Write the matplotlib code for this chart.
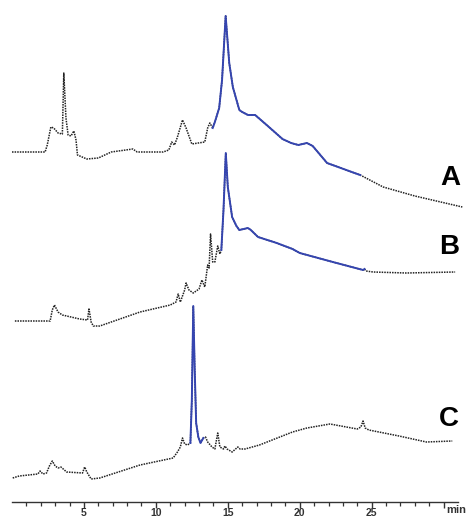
import matplotlib
matplotlib.use('Agg')
import matplotlib.pyplot as plt
import numpy as np

# retention time (min) and signal (arbitrary units)
t_a = [0.0, 2.3, 2.45, 2.7, 2.9, 3.2, 3.5, 3.6, 3.75, 3.9, 4.1, 4.3, 4.45, 4.55,
       5.2, 6.0, 6.9, 8.4, 8.7, 10.5, 10.9, 11.1, 11.3, 11.5, 11.85, 12.1, 12.5,
       13.4, 13.6, 13.75, 13.95, 14.1, 14.4, 14.6, 14.85, 15.1, 15.35, 15.8, 16.0,
       16.4, 16.9, 17.7, 18.8, 19.4, 19.9, 20.5, 20.9, 21.9, 24.0, 24.2, 25.8,
       28.0, 31.3]
s_a = [0, 0, 7, 25, 24, 19, 18, 79, 34, 17, 16, 21, 12, -3,
       -7, -6, 0, 3, 0, 0, 2, 10, 7, 15, 32, 24, 8,
       10, 24, 29, 24, 30, 44, 72, 136, 89, 65, 42, 40,
       37, 37, 27, 13, 9, 7, 9, 6, -11, -22, -23, -35,
       -44, -55]

t_b = [0.2, 2.65, 2.8, 2.95, 3.2, 3.5, 3.8, 4.7, 5.25, 5.35, 5.5, 5.65, 6.1,
       7.5, 8.9, 11.0, 11.4, 11.55, 11.7, 12.0, 12.1, 12.3, 12.6, 13.0, 13.2,
       13.4, 13.6, 13.7, 13.8, 13.95, 14.1, 14.3, 14.45, 14.55, 14.7, 14.86,
       15.0, 15.3, 15.6, 15.8, 16.1, 16.4, 16.6, 17.1, 18.4, 19.5, 20.0, 22.3,
       24.4, 24.5, 24.6, 25.1, 27.4, 30.8]
s_b = [0, 0, 11, 16, 9, 6, 5, 2, 1, 12, -1, -5, -5,
       2, 9, 16, 19, 27, 19, 31, 38, 31, 28, 32, 41,
       34, 56, 53, 87, 59, 59, 75, 67, 71, 111, 168,
       134, 104, 95, 91, 92, 93, 91, 84, 78, 72, 68, 59,
       51, 52, 50, 49, 48, 49]

t_c = [0.05, 0.5, 1.8, 1.95, 2.15, 2.4, 2.6, 2.8, 3.0, 3.2, 3.4, 3.8, 4.9,
       5.05, 5.2, 5.5, 6.1, 8.9, 11.2, 11.5, 11.7, 11.85, 12.0, 12.2, 12.4,
       12.5, 12.6, 12.7, 12.8, 12.95, 13.1, 13.3, 13.45, 13.6, 13.9, 14.1,
       14.3, 14.45, 14.7, 14.8, 14.95, 15.3, 15.7, 15.85, 16.2, 17.2, 19.5,
       20.5, 22.1, 24.0, 24.25, 24.4, 24.55, 24.8, 26.9, 28.8, 30.6]
s_c = [0, 2, 4, 7, 4, 5, 12, 17, 12, 10, 11, 6, 5,
       11, 6, -1, 0, 13, 20, 26, 31, 40, 34, 33, 35,
       78, 172, 108, 55, 41, 35, 40, 41, 36, 31, 29,
       45, 31, 29, 32, 29, 26, 31, 29, 29, 33, 46,
       50, 54, 49, 51, 57, 50, 48, 42, 36, 37]

# time window of the highlighted (blue) part of each run
blue_a = (13.9, 24.2)
blue_b = (14.5, 24.5)
blue_c = (12.4, 13.3)

labels = ['A', 'B', 'C']
offsets = [350, 181, 24]
label_pos = [(30.5, 324), (30.4, 255), (30.4, 83)]

fig = plt.figure(figsize=(4.67, 5.17), dpi=100)
ax = fig.add_axes([12 / 467, 15 / 517, 446 / 467, 502 / 517])

dots = (0, (1.0, 0.7))
traces = [(t_a, s_a, blue_a), (t_b, s_b, blue_b), (t_c, s_c, blue_c)]
for (t, s, win), off, lab, pos in zip(traces, offsets, labels, label_pos):
    t = np.array(t)
    y = np.array(s) + off
    ax.plot(t, y, color='#222222', lw=1.1, ls=dots, clip_on=False)
    m = (t >= win[0]) & (t <= win[1])
    ax.plot(t[m], y[m], color='#3545b0', lw=1.4, clip_on=False)
    ax.text(pos[0], pos[1], lab, fontsize=20, fontweight='bold',
            family='Liberation Sans', ha='center', va='center', color='black')

ax.set_xlim(0, 31)
ax.set_ylim(0, 502)
for side in ['left', 'right', 'top']:
    ax.spines[side].set_visible(False)
ax.spines['bottom'].set_linewidth(1.0)
ax.spines['bottom'].set_color('#333333')
ax.set_yticks([])
ax.set_xticks([5, 10, 15, 20, 25, 30])
ax.set_xticklabels(['5', '10', '15', '20', '25', ''])
ax.set_xticks(np.arange(1, 31), minor=True)
ax.tick_params(axis='x', which='major', direction='out', length=4, width=1,
               color='#333333', pad=0, labelsize=7.5, labelcolor='#333333')
ax.tick_params(axis='x', which='minor', direction='out', length=3, width=0.9,
               color='#333333')
for lbl in ax.get_xticklabels():
    lbl.set_fontweight('bold')
    lbl.set_family('Liberation Sans')
ax.text(31.55, -3, 'min', fontsize=8, fontweight='bold', family='Liberation Sans',
        ha='right', va='top', color='#333333', clip_on=False)

fig.savefig('out.png', dpi=100)
